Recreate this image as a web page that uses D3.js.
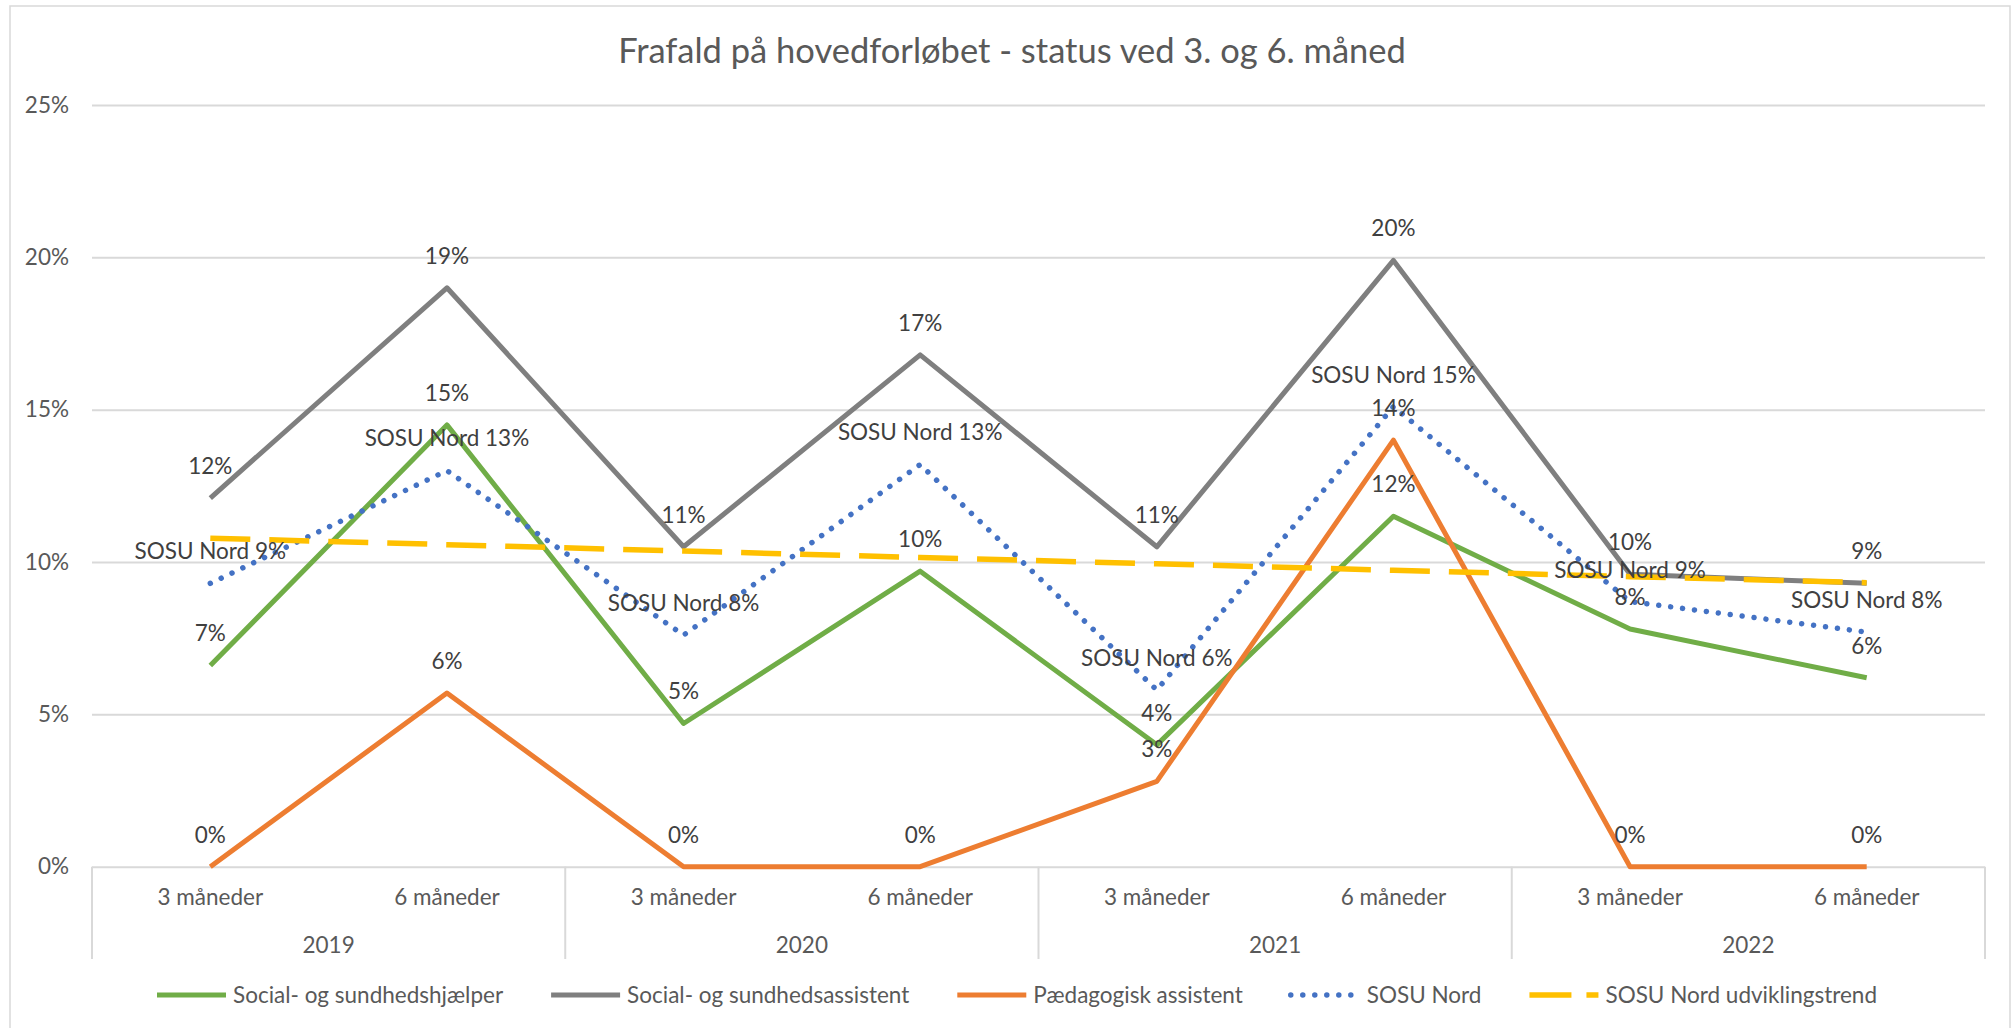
<!DOCTYPE html>
<html>
<head>
<meta charset="utf-8">
<script src="https://cdn.jsdelivr.net/npm/d3@7"></script>
<style>
  body { margin: 0; background: #fff; }
  svg text { font-family: Lato, "Open Sans", sans-serif; }
</style>
</head>
<body>
<svg width="2016" height="1028"></svg>
<script>
var months = ["3 måneder", "6 måneder"];
var years = ["2019", "2020", "2021", "2022"];

// frafald i procent
var hjaelper  = [6.6, 14.5, 4.7, 9.7, 4.0, 11.5, 7.8, 6.2];
var assistent = [12.1, 19.0, 10.5, 16.8, 10.5, 19.9, 9.6, 9.3];
var paedagog  = [0, 5.7, 0, 0, 2.8, 14.0, 0, 0];
var sosuNord  = [9.3, 13.0, 7.6, 13.2, 5.8, 15.1, 8.7, 7.7];
var trend     = [10.78, 10.57, 10.36, 10.15, 9.94, 9.73, 9.52, 9.32];
var yTicks = [0, 5, 10, 15, 20, 25];

var series = [
    {name: "Social- og sundhedshjælper", values: hjaelper, color: "#70AD47", label: ""},
    {name: "Social- og sundhedsassistent", values: assistent, color: "#7F7F7F", label: ""},
    {name: "Pædagogisk assistent", values: paedagog, color: "#ED7D31", label: ""},
    {name: "SOSU Nord", values: sosuNord, color: "#4472C4", label: "SOSU Nord ", dash: "0.01,12"},
    {name: "SOSU Nord udviklingstrend", values: trend, color: "#FFC000", dash: "40,19", trend: true}
];

var cats = [];
years.forEach(function(yr) {
    months.forEach(function(m) { cats.push({year: yr, month: m}); });
});

var svg = d3.select("svg"),
    plotLeft = 92, plotRight = 1985, plotTop = 105, plotBottom = 866.7,
    fs = 22.5;

function strokeW(s) {
    if (s.trend) return 5.5;
    return s.dash ? 5.5 : 5;
}

svg.append("rect")
    .attr("x", 10).attr("y", 6)
    .attr("width", 2000).attr("height", 1040)
    .attr("fill", "#fff").attr("stroke", "#d9d9d9").attr("stroke-width", 1.5);

svg.append("text")
    .attr("x", 1012).attr("y", 51).attr("dy", "0.35em")
    .attr("text-anchor", "middle")
    .attr("fill", "#595959").attr("font-size", 34.5)
    .text("Frafald på hovedforløbet - status ved 3. og 6. måned");

var x = d3.scaleBand().domain(d3.range(cats.length)).range([plotLeft, plotRight]);
var y = d3.scaleLinear().domain([0, 25]).range([plotBottom, plotTop]);

// y akse + gitterlinjer
var yAxis = svg.append("g")
    .attr("transform", "translate(" + plotLeft + ",0)")
    .call(d3.axisLeft(y).tickValues(yTicks).tickSize(-(plotRight - plotLeft)).tickPadding(23)
        .tickFormat(function(d) { return d + "%"; }));
yAxis.select(".domain").remove();
yAxis.selectAll("line").attr("stroke", "#d9d9d9").attr("stroke-width", 2);
yAxis.selectAll("text").attr("fill", "#595959").attr("font-size", fs);

// x akse
var xAxis = svg.append("g")
    .attr("transform", "translate(0," + plotBottom + ")")
    .call(d3.axisBottom(x).tickSize(0).tickPadding(22)
        .tickFormat(function(i) { return cats[i].month; }));
xAxis.select(".domain").remove();
xAxis.selectAll("text").attr("fill", "#595959").attr("font-size", fs);

var seps = d3.range(years.length + 1).map(function(i) {
    return i < years.length ? x(i * 2) : plotRight;
});
svg.append("g").selectAll("line")
    .data(seps)
    .enter().append("line")
    .attr("x1", function(d) { return d; })
    .attr("x2", function(d) { return d; })
    .attr("y1", plotBottom).attr("y2", 959)
    .attr("stroke", "#d9d9d9").attr("stroke-width", 2);

svg.append("g").selectAll("text")
    .data(years)
    .enter().append("text")
    .attr("x", function(d, i) { return x(i * 2) + x.bandwidth(); })
    .attr("y", 945).attr("dy", "0.35em")
    .attr("text-anchor", "middle")
    .attr("fill", "#595959").attr("font-size", fs)
    .text(function(d) { return d; });

var line = d3.line()
    .x(function(d, i) { return x(i) + x.bandwidth() / 2; })
    .y(function(d) { return y(d); });

svg.append("g").selectAll("path")
    .data(series)
    .enter().append("path")
    .attr("d", function(s) { return line(s.values); })
    .attr("fill", "none")
    .attr("stroke", function(s) { return s.color; })
    .attr("stroke-width", strokeW)
    .attr("stroke-dasharray", function(s) { return s.dash || null; })
    .attr("stroke-linecap", function(s) { return s.dash && !s.trend ? "round" : "butt"; })
    .attr("stroke-linejoin", "round");

// dataetiketter
series.filter(function(s) { return !s.trend; }).forEach(function(s) {
    svg.append("g").selectAll("text")
        .data(s.values)
        .enter().append("text")
        .attr("x", function(d, i) { return x(i) + x.bandwidth() / 2; })
        .attr("y", function(d) { return y(d) - 32; })
        .attr("dy", "0.35em")
        .attr("text-anchor", "middle")
        .attr("fill", "#404040").attr("font-size", fs)
        .text(function(d) { return s.label + Math.round(d) + "%"; });
});

// legend
var legend = svg.append("g").attr("transform", "translate(0,995)");
var items = legend.selectAll("g")
    .data(series)
    .enter().append("g");
items.append("line")
    .attr("x1", 0).attr("x2", 69)
    .attr("stroke", function(s) { return s.color; })
    .attr("stroke-width", strokeW)
    .attr("stroke-dasharray", function(s) { return s.trend ? "42,15" : (s.dash || null); })
    .attr("stroke-linecap", function(s) { return s.dash && !s.trend ? "round" : "butt"; });
items.append("text")
    .attr("x", 76).attr("dy", "0.35em")
    .attr("fill", "#595959").attr("font-size", fs)
    .text(function(s) { return s.name; });

var pos = 0, offs = [];
items.each(function() {
    offs.push(pos);
    pos += 76 + d3.select(this).select("text").node().getComputedTextLength() + 48;
});
var start = 1017 - (pos - 48) / 2;
items.attr("transform", function(d, i) { return "translate(" + (start + offs[i]) + ",0)"; });
</script>
</body>
</html>
